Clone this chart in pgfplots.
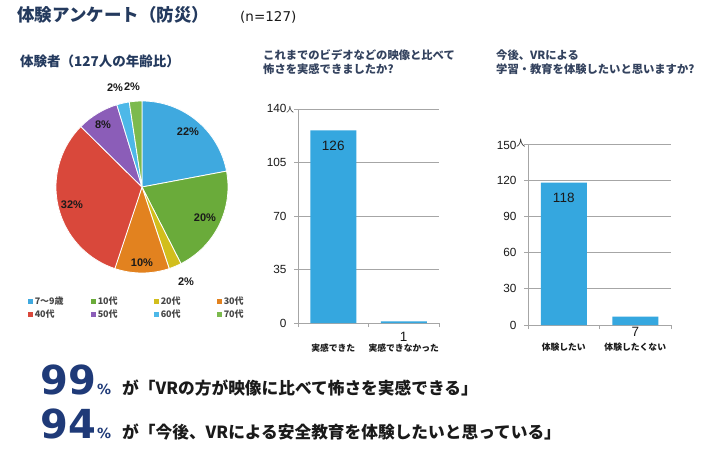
\documentclass[border=0pt]{standalone}
\usepackage{pgfplots}
\pgfplotsset{compat=1.18}
\usepackage{pgfplotstable}
\usepackage{fontspec}
\setmainfont{Liberation Sans}
\newfontfamily\jp{Noto Sans CJK JP}
\newfontfamily\dv{DejaVu Sans}
\definecolor{cA}{HTML}{3FA9DF}
\definecolor{cB}{HTML}{6AAB3A}
\definecolor{cC}{HTML}{D2BE1C}
\definecolor{cD}{HTML}{E2821F}
\definecolor{cE}{HTML}{D9483B}
\definecolor{cF}{HTML}{8B5DB8}
\definecolor{cG}{HTML}{4DB8E8}
\definecolor{cH}{HTML}{7CBA4E}
\definecolor{barc}{HTML}{35A7DF}
\definecolor{navy}{HTML}{1F3A78}
\definecolor{ttl}{HTML}{243A5E}
\definecolor{sub}{HTML}{33425E}
\definecolor{gridc}{HTML}{A6A6A6}
\definecolor{txt}{HTML}{1A1A1A}

\pgfplotstableread{
value col
28 cA
26 cB
3 cC
13 cD
41 cE
10 cF
3 cG
3 cH
}\agetable

\pgfplotsset{
  barchart/.style={
    scale only axis,
    axis lines=left,
    x axis line style={-, draw=gridc, line width=0.8pt},
    y axis line style={-, draw=gridc, line width=0.8pt},
    ymajorgrids,
    grid style={draw=gridc, line width=0.8pt},
    tick align=outside,
    major tick length=4pt,
    tick style={draw=gridc, line width=0.8pt},
    xmin=0, xmax=2,
    xtick={0,1,2},
    x tick label as interval,
    ymin=0,
    /pgf/number format/assume math mode=true,
    yticklabel style={font=\fontsize{11.8}{13}\selectfont, text=txt, xshift=-4pt},
    xticklabel style={font=\jp\bfseries\fontsize{8.8}{10}\selectfont, text=txt},
    clip=false,
  },
  bars/.style={
    ybar, bar width=46pt, fill=barc, draw=none,
    nodes near coords,
    every node near coord/.append style={anchor=north, yshift=-7pt, font=\fontsize{13.5}{15}\selectfont, text=txt},
  }
}

\begin{document}
\begin{tikzpicture}[x=1pt,y=1pt]
\fill[white] (0,0) rectangle (720,-462);
\path[use as bounding box] (0,0) rectangle (720,-462);

% titles
\node[anchor=west, inner sep=0, font=\jp\bfseries\fontsize{17.5}{20}\selectfont, text=ttl] at (17,-15) {体験アンケート（防災）};
\node[anchor=west, inner sep=0, font=\dv\fontsize{13.5}{16}\selectfont, text=txt] at (240,-17) {(n=127)};
\node[anchor=west, inner sep=0, font=\jp\bfseries\fontsize{13.5}{16}\selectfont, text=ttl] at (20,-61) {体験者（127人の年齢比）};

% pie
\begin{axis}[at={(142pt,-187pt)}, anchor=center, scale only axis, width=180pt, height=180pt,
  xmin=-90, xmax=90, ymin=-90, ymax=90, hide axis, clip=false,
  legend columns=4,
  legend image code/.code={\fill[#1, draw=none] (0pt,-2.5pt) rectangle (5pt,2.5pt);},
  legend style={at={(-0.133,-0.1)}, anchor=north west, draw=none, fill=none, inner sep=0pt,
    row sep=0.5pt, nodes={inner sep=1.5pt, anchor=west, font=\jp\bfseries\fontsize{9}{10}\selectfont, text=txt!80}},
  ]
\pgfplotsextra{%
  \gdef\cur{90}%
  \pgfplotstablegetrowsof{\agetable}%
  \pgfmathtruncatemacro\N{\pgfplotsretval-1}%
  \foreach \i in {0,...,\N}{%
    \pgfplotstablegetelem{\i}{value}\of\agetable
    \pgfmathsetmacro\nxt{\cur-\pgfplotsretval/127*360}%
    \pgfplotstablegetelem{\i}{col}\of\agetable
    \edef\c{\pgfplotsretval}%
    \fill[fill=\c, draw=white, line width=0.8pt, line join=round] (axis cs:0,0) -- ++(\cur:86pt) arc[start angle=\cur, end angle=\nxt, radius=86pt] -- cycle;
    \xdef\cur{\nxt}%
  }%
}
\addlegendimage{fill=cA}\addlegendentry{\makebox[55pt][l]{7～9歳}}
\addlegendimage{fill=cB}\addlegendentry{\makebox[55pt][l]{10代}}
\addlegendimage{fill=cC}\addlegendentry{\makebox[55pt][l]{20代}}
\addlegendimage{fill=cD}\addlegendentry{\makebox[55pt][l]{30代}}
\addlegendimage{fill=cE}\addlegendentry{\makebox[55pt][l]{40代}}
\addlegendimage{fill=cF}\addlegendentry{\makebox[55pt][l]{50代}}
\addlegendimage{fill=cG}\addlegendentry{\makebox[55pt][l]{60代}}
\addlegendimage{fill=cH}\addlegendentry{\makebox[55pt][l]{70代}}
\end{axis}

% pie labels
\begin{scope}[every node/.style={inner sep=0, font=\bfseries\fontsize{11}{12}\selectfont, text=txt}]
\node at (188,-132) {22\%};
\node at (205,-218) {20\%};
\node at (186,-282) {2\%};
\node at (142,-263) {10\%};
\node at (72,-205) {32\%};
\node at (103,-125) {8\%};
\node at (115,-88) {2\%};
\node at (132,-87) {2\%};
\end{scope}

% chart 1
\node[anchor=west, inner sep=0, font=\jp\bfseries\fontsize{11.3}{13}\selectfont, text=sub] at (263,-55) {これまでのビデオなどの映像と比べて};
\node[anchor=west, inner sep=0, font=\jp\bfseries\fontsize{11.3}{13}\selectfont, text=sub] at (263,-69) {怖さを実感できましたか?};
\begin{axis}[barchart, at={(298pt,-323pt)}, anchor=south west, width=141pt, height=214pt,
  ymax=140, ytick={0,35,70,105,140},
  yticklabels={0,35,70,105,140\rlap{\jp\fontsize{7.5}{8}\selectfont 人}},
  xticklabels={実感できた,実感できなかった,},
  xticklabel style={yshift=-13pt},
  ]
\addplot[bars] coordinates {(0.5,126) (1.5,1)};
\end{axis}

% chart 2
\node[anchor=west, inner sep=0, font=\jp\bfseries\fontsize{11.3}{13}\selectfont, text=sub] at (496,-55) {今後、VRによる};
\node[anchor=west, inner sep=0, font=\jp\bfseries\fontsize{11.3}{13}\selectfont, text=sub] at (496,-69) {学習・教育を体験したいと思いますか?};
\begin{axis}[barchart, at={(528pt,-325pt)}, anchor=south west, width=143pt, height=181pt,
  ymax=150, ytick={0,30,60,90,120,150},
  yticklabels={0,30,60,90,120,150\rlap{\raisebox{3pt}{\jp\fontsize{9}{9}\selectfont 人}}},
  xticklabels={体験したい,体験したくない,},
  xticklabel style={yshift=-10pt},
  ]
\addplot[bars] coordinates {(0.5,118) (1.5,7)};
\end{axis}

% bottom statements
\node[anchor=base west, inner sep=0, font=\dv\bfseries\fontsize{40}{42}\selectfont, text=navy] at (40,-394) {99};
\node[anchor=base west, inner sep=0, font=\dv\bfseries\fontsize{14}{16}\selectfont, text=navy] at (97,-394) {\%};
\node[anchor=base west, inner sep=0, font=\jp\bfseries\fontsize{16.7}{20}\selectfont, text=txt] at (122,-394) {が「VRの方が映像に比べて怖さを実感できる」};
\node[anchor=base west, inner sep=0, font=\dv\bfseries\fontsize{40}{42}\selectfont, text=navy] at (40,-438) {94};
\node[anchor=base west, inner sep=0, font=\dv\bfseries\fontsize{14}{16}\selectfont, text=navy] at (97,-438) {\%};
\node[anchor=base west, inner sep=0, font=\jp\bfseries\fontsize{16.7}{20}\selectfont, text=txt] at (122,-438) {が「今後、VRによる安全教育を体験したいと思っている」};
\end{tikzpicture}
\end{document}
